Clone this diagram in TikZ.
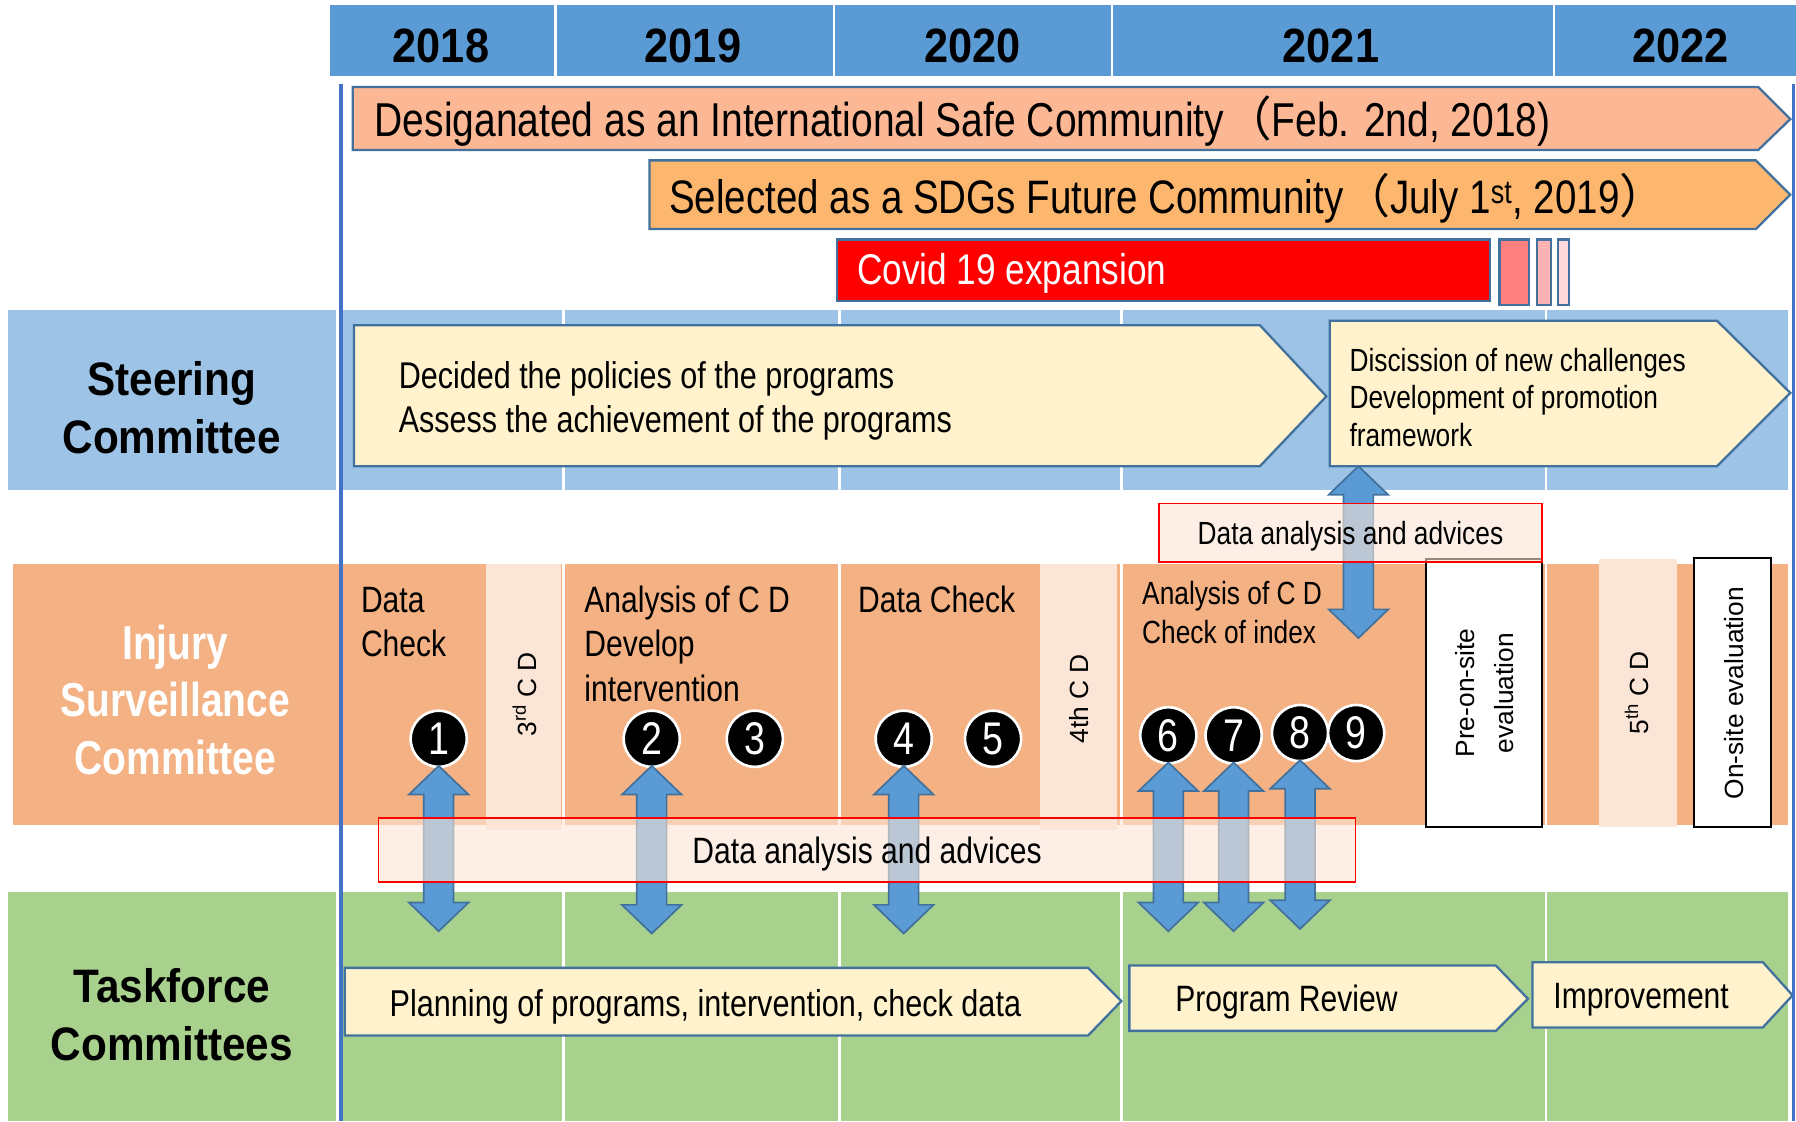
\documentclass[tikz,border=0pt]{standalone}
\usepackage{fontspec}
\setmainfont{Liberation Sans}[FakeStretch=0.82]
\newfontfamily\arialfont{Liberation Sans}
\newfontfamily\headfont{Liberation Sans}[FakeStretch=0.9]
\newfontfamily\cjkfont{Noto Sans CJK JP}
\usetikzlibrary{calc}

\definecolor{yearblue}{HTML}{5B9BD5}
\definecolor{steerblue}{HTML}{9DC3E6}
\definecolor{injorange}{HTML}{F4B183}
\definecolor{taskgreen}{HTML}{A9D18E}
\definecolor{cdlight}{HTML}{FBE5D6}
\definecolor{platefill}{HTML}{FFF2CC}
\definecolor{edgeblue}{HTML}{41719C}
\definecolor{lineblue}{HTML}{4472C4}
\definecolor{safefill}{HTML}{FCB794}
\definecolor{sdgfill}{HTML}{FDB66E}
\definecolor{covidA}{HTML}{FF7F7F}
\definecolor{covidB}{HTML}{FFB3B3}
\definecolor{covidC}{HTML}{FFD9DC}

\newcommand\fsz[2]{\fontsize{#1}{#2}\selectfont}
% fat blue double arrow from tip (#1) down to tip (#2)
\newcommand\dblarrow[2]{%
  \draw[bluearrow] (#1) -- ++(26,25) -- ++(-13,0) -- ($(#2)+(13,-25)$) -- ++(13,0)
    -- (#2) -- ++(-26,-25) -- ++(13,0) -- ($(#1)+(-13,25)$) -- ++(-13,0) -- cycle;}

\begin{document}
\begin{tikzpicture}[x=1pt,y=-1pt,
    every node/.style={inner sep=0pt},
    gridline/.style={white,line width=2pt},
    plate/.style={draw=edgeblue,line width=2pt,fill=platefill},
    banner/.style={draw=edgeblue,line width=2pt},
    evalbox/.style={draw=black,line width=1.5pt,fill=white},
    numdot/.style={circle,fill=black,draw=white,line width=2.3pt,minimum size=49pt,
      text=white,font=\fsz{40}{40}},
    bluearrow/.style={draw=edgeblue,line width=1.5pt,fill=yearblue,line join=miter},
    advice/.style={draw=red,line width=1.5pt,fill=cdlight,fill opacity=0.6,text opacity=1},
    yearlabel/.style={font=\headfont\bfseries\fsz{42}{42}},
    rowlabel/.style={align=center,font=\headfont\bfseries\fsz{41}{50}},
    cdlabel/.style={rotate=90,font=\arialfont\fsz{23}{34},align=center}]
  \useasboundingbox (0,0) rectangle (1568,979);

  %year header
    \fill[yearblue] (288,4) rectangle (1568,66);
    \foreach \x in {485,728,971,1357} \draw[gridline] (\x,4) -- (\x,66);
    \node[yearlabel] (y18) at (385,40) {2018};
    \node[yearlabel] (y19) at (605,40) {2019};
    \node[yearlabel] (y20) at (849,40) {2020};
    \node[yearlabel] (y21) at (1162,40) {2021};
    \node[yearlabel] (y22) at (1467,40) {2022};

  %row bands
    \fill[steerblue] (7,271) rectangle (1561,428);
    \fill[injorange] (11,492) rectangle (1561,720);
    \fill[taskgreen] (7,779) rectangle (1561,979);
    \draw[white,line width=3pt] (294.5,271) -- (294.5,428) (294.5,779) -- (294.5,979);
    \foreach \x in {492,733,979,1350} {
      \draw[gridline] (\x,271) -- (\x,428);
      \draw[gridline] (\x,492) -- (\x,720);
      \draw[gridline] (\x,779) -- (\x,979);
    }

  %milestones
    \draw[banner,fill=safefill] (308,76) -- (1535,76) -- (1563,104) -- (1535,131) -- (308,131) -- cycle;
    \node[anchor=west,font=\fsz{41.5}{40}] (safe) at (327,106)
      {Desiganated as an International Safe Community{\cjkfont （}Feb. 2nd, 2018)};
    \draw[banner,fill=sdgfill] (567,140) -- (1533,140) -- (1563,170) -- (1533,200) -- (567,200) -- cycle;
    \node[anchor=west,font=\fsz{41}{40}] (sdg) at (584,173)
      {Selected as a SDGs Future Community{\cjkfont （}July 1\textsuperscript{st}, 2019{\cjkfont ）}};
    \draw[banner,fill=red] (731,209) rectangle (1301,263);
    \draw[banner,fill=covidA] (1309,209) rectangle (1335,266);
    \draw[banner,fill=covidB] (1342,209) rectangle (1354,266);
    \draw[banner,fill=covidC] (1360,209) rectangle (1370,266);
    \node[anchor=west,text=white,font=\fsz{37.5}{37}] (covid) at (748,239) {Covid 19 expansion};

  %steering committee
    \node[rowlabel] (steer) at (150,356) {Steering\\Committee};
    \draw[plate] (309,284) -- (1100,284) -- (1158,346) -- (1100,407) -- (309,407) -- cycle;
    \node[anchor=west,align=left,font=\fsz{32.5}{38}] (policy) at (348,350)
      {Decided the policies of the programs\\Assess the achievement of the programs};
    \draw[plate] (1161,280) -- (1499,280) -- (1563,343) -- (1499,407) -- (1161,407) -- cycle;
    \node[anchor=west,align=left,font=\fsz{28}{33}] (newch) at (1178,347)
      {Discission of new challenges\\Development of promotion\\framework};

  %injury surveillance committee
    \node[rowlabel,text=white,font=\bfseries\fsz{41.5}{50}] (injury) at (153,611)
      {Injury\\Surveillance\\Committee};
    \fill[cdlight] (424,492) rectangle (490,725);
    \fill[cdlight] (908,492) rectangle (975,725);
    \fill[cdlight] (1396,488) rectangle (1464,722);
    \draw[evalbox] (1245,488) rectangle (1346,722);
    \draw[evalbox] (1479,487) rectangle (1546,722);
    \node[cdlabel] (cd3) at (458,606) {3\textsuperscript{rd} C D};
    \node[cdlabel] (cd4) at (942,610) {4th C D};
    \node[cdlabel] (cd5) at (1429,605) {5\textsuperscript{th} C D};
    \node[cdlabel] (preeval) at (1296,605) {Pre-on-site\\evaluation};
    \node[cdlabel] (oneval) at (1514,605) {On-site evaluation};
    \node[anchor=west,align=left,font=\fsz{32}{39}] (chk18) at (315,543) {Data\\Check};
    \node[anchor=west,align=left,font=\fsz{32}{39}] (ana19) at (510,562)
      {Analysis of C D\\Develop\\intervention};
    \node[anchor=west,font=\fsz{32}{39}] (chk20) at (749,523) {Data Check};
    \node[anchor=west,align=left,font=\fsz{28}{34}] (ana21) at (997,535)
      {Analysis of C D\\Check of index};

  %numbered steps
    \node[numdot] (n1) at (383,645) {1};
    \node[numdot] (n2) at (569,645) {2};
    \node[numdot] (n3) at (659,645) {3};
    \node[numdot] (n4) at (789,645) {4};
    \node[numdot] (n5) at (867,645) {5};
    \node[numdot] (n6) at (1020,642) {6};
    \node[numdot] (n7) at (1077,642) {7};
    \node[numdot] (n8) at (1135,640) {8};
    \node[numdot] (n9) at (1184,640) {9};

  %taskforce committees
    \node[rowlabel] (task) at (150,886) {Taskforce\\Committees};
    \draw[plate] (301,845) -- (950,845) -- (979,874) -- (950,904) -- (301,904) -- cycle;
    \node[anchor=west,font=\fsz{32.6}{39}] (plan) at (340,879)
      {Planning of programs, intervention, check data};
    \draw[plate] (986,843) -- (1306,843) -- (1334,872) -- (1306,900) -- (986,900) -- cycle;
    \node[anchor=west,font=\fsz{32}{39}] (review) at (1026,875) {Program Review};
    \draw[plate] (1338,840) -- (1539,840) -- (1565,869) -- (1539,897) -- (1338,897) -- cycle;
    \node[anchor=west,font=\fsz{32}{39}] (improve) at (1356,873) {Improvement};

  %advice arrows
    \foreach \i/\yb in {1/813,2/815,4/815,6/813,7/813,8/811} {
      \coordinate (t\i) at ($(n\i.south)+(0,-2)$);
      \coordinate (b\i) at (n\i.south |- 0,\yb);
      \dblarrow{t\i}{b\i}
    }
    \coordinate (tup) at (1186,407);
    \coordinate (bup) at (1186,557);
    \dblarrow{tup}{bup}
    \node[advice,minimum width=334pt,minimum height=51pt,text height=20pt,text depth=0pt,
      font=\fsz{28}{28}] (adv1) at (1179,465) {Data analysis and advices};
    \node[advice,minimum width=853pt,minimum height=56pt,text height=23pt,text depth=0pt,
      font=\fsz{32}{32}] (adv2) at (757,742) {Data analysis and advices};

  %time axis lines
    \draw[lineblue,line width=3.5pt] (298,73) -- (298,979);
    \draw[lineblue,line width=3pt] (1566,73) -- (1566,979);
\end{tikzpicture}
\end{document}
